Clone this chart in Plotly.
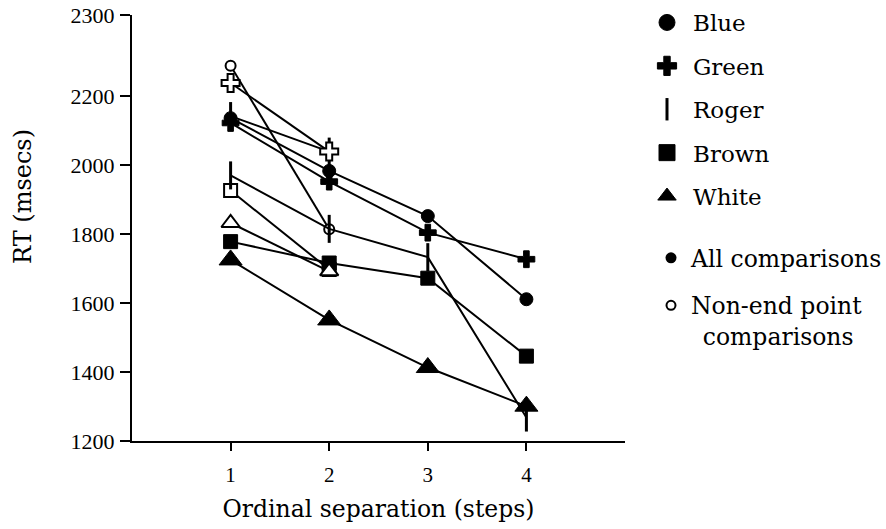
import plotly.graph_objects as go

# ---------------- data ----------------
STEPS = [1, 2, 3, 4]
NON_END_STEPS = [1, 2]

BLUE_ALL = [2136, 1983, 1852, 1611]
GREEN_ALL = [2122, 1952, 1804, 1727]
ROGER_ALL = [1970, 1815, 1733, 1268]
BROWN_ALL = [1778, 1716, 1672, 1446]
WHITE_ALL = [1725, 1551, 1413, 1301]

BLUE_NON_END = [2288, 1814]
GREEN_NON_END = [2238, 2039]
ROGER_NON_END = [2142, 2039]
BROWN_NON_END = [1926, 1697]
WHITE_NON_END = [1832, 1692]

SUBJECTS = ["Blue", "Green", "Roger", "Brown", "White"]
COMPARISON_TYPES = ["All comparisons", "Non-end point<br>\u2002comparisons"]

X_TICK_VALUES = [1, 2, 3, 4]
X_TICK_LABELS = ["1", "2", "3", "4"]
Y_TICK_VALUES = [1200, 1400, 1600, 1800, 2000, 2200, 2435]
Y_TICK_LABELS = ["1200", "1400", "1600", "1800", "2000", "2200", "2300"]

# ---------------- styles ----------------
SYMBOL = {"Blue": "circle", "Green": "cross", "Roger": "line-ns",
          "Brown": "square", "White": "triangle-up"}
FILLED_SIZE = {"Blue": 13, "Green": 14, "Roger": 20, "Brown": 14, "White": 20}
OPEN_SIZE = {"Blue": 10, "Green": 15, "Roger": 20, "Brown": 13, "White": 16}

TEXT_FONT = "DejaVu Serif"
TICK_FONT = "Liberation Serif"


def filled_marker(name, size=None):
    s = size if size is not None else FILLED_SIZE[name]
    if SYMBOL[name] == "line-ns":
        return dict(symbol="line-ns", size=s, color="black",
                    line=dict(color="black", width=3))
    return dict(symbol=SYMBOL[name], size=s, color="black",
                line=dict(color="black", width=1))


def open_marker(name):
    if SYMBOL[name] == "line-ns":
        return dict(symbol="line-ns", size=OPEN_SIZE[name], color="black",
                    line=dict(color="black", width=3))
    return dict(symbol=SYMBOL[name], size=OPEN_SIZE[name], color="white",
                line=dict(color="black", width=2))


all_data = {"Blue": BLUE_ALL, "Green": GREEN_ALL, "Roger": ROGER_ALL,
            "Brown": BROWN_ALL, "White": WHITE_ALL}
non_end_data = {"Blue": BLUE_NON_END, "Green": GREEN_NON_END, "Roger": ROGER_NON_END,
                "Brown": BROWN_NON_END, "White": WHITE_NON_END}

fig = go.Figure()

draw_order = [("Brown", "open"), ("Brown", "all"), ("White", "open"),
              ("Blue", "open"), ("Roger", "all"), ("Roger", "open"),
              ("White", "all"), ("Blue", "all"), ("Green", "all"),
              ("Green", "open")]

for name, kind in draw_order:
    if kind == "all":
        fig.add_trace(go.Scatter(
            x=STEPS, y=all_data[name], mode="lines+markers",
            line=dict(color="black", width=2),
            marker=filled_marker(name), showlegend=False,
            name=f"{name} (all comparisons)"))
    else:
        fig.add_trace(go.Scatter(
            x=NON_END_STEPS, y=non_end_data[name], mode="lines+markers",
            line=dict(color="black", width=2),
            marker=open_marker(name), showlegend=False,
            name=f"{name} (non-end point comparisons)"))

# legend entries (markers only)
for i, name in enumerate(SUBJECTS):
    fig.add_trace(go.Scatter(
        x=[None], y=[None], mode="markers", name=name,
        marker=filled_marker(name, 16), legend="legend",
        legendgroup=f"s{i}", showlegend=True))

fig.add_trace(go.Scatter(
    x=[None], y=[None], mode="markers", name=COMPARISON_TYPES[0],
    marker=dict(symbol="circle", size=11, color="black"),
    legend="legend2", legendgroup="c0", showlegend=True))
fig.add_trace(go.Scatter(
    x=[None], y=[None], mode="markers", name=COMPARISON_TYPES[1],
    marker=dict(symbol="circle", size=9, color="white",
                line=dict(color="black", width=2)),
    legend="legend2", legendgroup="c1", showlegend=True))

W, H = 886, 529
L, R, T, B = 132, 261, 15, 88

fig.update_layout(
    width=W, height=H,
    margin=dict(l=L, r=R, t=T, b=B, pad=0, autoexpand=False),
    paper_bgcolor="white", plot_bgcolor="white",
    font=dict(family=TEXT_FONT, color="black"),
    xaxis=dict(
        range=[0, 5], tickvals=X_TICK_VALUES, ticktext=X_TICK_LABELS,
        showgrid=False, zeroline=False, showline=True, linecolor="black",
        linewidth=2, ticks="outside", ticklen=8, tickwidth=2, tickcolor="black",
        tickfont=dict(family=TICK_FONT, size=21, color="black"),
        ticklabelstandoff=6, automargin=False,
        title=dict(text="Ordinal separation (steps)",
                   font=dict(family=TEXT_FONT, size=23.5, color="black"),
                   standoff=14),
    ),
    yaxis=dict(
        range=[1200, 2435], tickvals=Y_TICK_VALUES, ticktext=Y_TICK_LABELS,
        showgrid=False, zeroline=False, showline=True, linecolor="black",
        linewidth=2, ticks="outside", ticklen=10, tickwidth=2, tickcolor="black",
        tickfont=dict(family=TICK_FONT, size=22, color="black"),
        ticklabelstandoff=1, automargin=False,
    ),
    legend=dict(
        xref="container", yref="container", x=641 / W, y=1 - 1 / H,
        xanchor="left", yanchor="top",
        font=dict(family=TEXT_FONT, size=23, color="black"),
        traceorder="grouped", tracegroupgap=10.5, itemwidth=42,
        bgcolor="rgba(0,0,0,0)", borderwidth=0,
    ),
    legend2=dict(
        xref="container", yref="container", x=651 / W, y=1 - 236 / H,
        xanchor="left", yanchor="top",
        font=dict(family=TEXT_FONT, size=23.5, color="black"),
        traceorder="grouped", tracegroupgap=14, itemwidth=30, valign="top",
        bgcolor="rgba(0,0,0,0)", borderwidth=0,
    ),
    annotations=[dict(
        text="RT (msecs)", textangle=-90, showarrow=False,
        xref="paper", yref="paper",
        x=(23 - L) / (W - L - R), y=(H - B - 197) / (H - T - B),
        xanchor="center", yanchor="middle",
        font=dict(family=TEXT_FONT, size=24, color="black"),
    )],
)

# remove the browser's default page margin so the figure sits at (0, 0)
fig.write_html("out.html", config={"displayModeBar": False},
               post_script="document.body.style.margin='0';")
